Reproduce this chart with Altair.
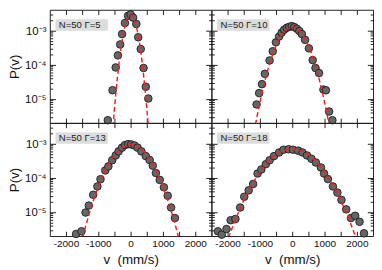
import altair as alt
import pandas as pd

# ---------------- data ----------------
labels = ["N=50 \u0393=5", "N=50 \u0393=10", "N=50 \u0393=13", "N=50 \u0393=18"]

tl_v = [-706, -559, -462, -394, -323, -265, -176, -79, 0, 76, 176, 235, 312, 400, 470, 547]
tl_p = [2.4e-6, 1.8e-5, 8.3e-5, 1.87e-4, 3.9e-4, 7.8e-4, 1.64e-3, 2.68e-3, 2.9e-3,
        2.36e-3, 1.54e-3, 6.3e-4, 2.86e-4, 8.0e-5, 2.27e-5, 1.03e-5]

tr_v = [-1103, -1024, -936, -848, -701, -603, -505, -407, -328, -250, -171, -93, -15,
        64, 142, 220, 299, 397, 515, 632, 720, 829, 965, 1044, 1141, 1241]
tr_p = [6.9e-6, 1.48e-5, 2.7e-5, 5.4e-5, 1.33e-4, 2.46e-4, 4.5e-4, 6.6e-4, 8.6e-4,
        1.05e-3, 1.19e-3, 1.27e-3, 1.33e-3, 1.25e-3, 1.12e-3, 9.6e-4, 7.8e-4, 5.3e-4,
        3.0e-4, 1.36e-4, 8.0e-5, 5.7e-5, 1.88e-5, 1.79e-5, 4.3e-6, 2.4e-6]

bl_v = [-1688, -1520, -1393, -1294, -1158, -1029, -932, -785, -688, -570, -462, -373,
        -265, -176, -79, 18, 118, 215, 332, 470, 588, 685, 782, 900, 1029, 1147, 1252, 1370]
bl_p = [2.3e-6, 2.75e-6, 9.7e-6, 1.55e-5, 3.2e-5, 5.6e-5, 9.1e-5, 1.64e-4, 2.16e-4,
        3.25e-4, 4.5e-4, 5.9e-4, 7.6e-4, 9.0e-4, 9.6e-4, 9.4e-4, 8.8e-4, 7.6e-4, 5.9e-4,
        4.3e-4, 3.3e-4, 2.26e-4, 1.38e-4, 8.7e-5, 5.3e-5, 3.0e-5, 1.36e-5, 6.7e-6]

br_v = [-2299, -2181, -2034, -1905, -1758, -1611, -1485, -1347, -1211, -1073, -956, -817,
        -700, -564, -406, -270, -112, 24, 182, 318, 456, 594, 729, 888, 985, 1103, 1258,
        1397, 1523, 1670, 1817, 1946, 2082, 2220]
br_p = [2.75e-6, 2.2e-6, 3.2e-6, 5.8e-6, 6.3e-6, 1.36e-5, 2.8e-5, 4.3e-5, 6.6e-5, 1.33e-4,
        1.75e-4, 2.5e-4, 3.25e-4, 4.3e-4, 5.5e-4, 6.6e-4, 6.8e-4, 6.6e-4, 6.2e-4, 5.5e-4,
        4.5e-4, 3.6e-4, 2.8e-4, 2.0e-4, 1.33e-4, 9.2e-5, 5.6e-5, 3.7e-5, 2.26e-5, 1.2e-5,
        6.7e-6, 7.8e-6, 5.2e-6, 2.4e-6]

# red dashed fit curves
tl_fv = [-600, -550, -500, -450, -400, -350, -300, -250, -200, -150, -100, -50, 0,
         50, 100, 150, 200, 250, 300, 350, 400, 450, 500, 550, 600]
tl_fp = [3.3e-7, 1.41e-6, 5.27e-6, 1.739e-5, 5.06e-5, 1.299e-4, 2.94e-4, 5.88e-4, 1.035e-3,
         1.607e-3, 2.201e-3, 2.658e-3, 2.83e-3, 2.658e-3, 2.201e-3, 1.607e-3, 1.035e-3,
         5.88e-4, 2.94e-4, 1.299e-4, 5.06e-5, 1.739e-5, 5.27e-6, 1.41e-6, 3.3e-7]

tr_fv = [-1300, -1200, -1100, -1000, -900, -800, -700, -600, -500, -400, -300, -200, -100, 0,
         100, 200, 300, 400, 500, 600, 700, 800, 900, 1000, 1100, 1200, 1300]
tr_fp = [2.4e-7, 8.6e-7, 2.75e-6, 7.97e-6, 2.09e-5, 4.94e-5, 1.058e-4, 2.05e-4, 3.57e-4,
         5.64e-4, 8.05e-4, 1.037e-3, 1.207e-3, 1.27e-3, 1.207e-3, 1.037e-3, 8.05e-4, 5.64e-4,
         3.57e-4, 2.05e-4, 1.058e-4, 4.94e-5, 2.09e-5, 7.97e-6, 2.75e-6, 8.6e-7, 2.4e-7]

bl_fv = [-1600, -1500, -1400, -1300, -1200, -1100, -1000, -900, -800, -700, -600, -500, -400,
         -300, -200, -100, 0, 100, 200, 300, 400, 500, 600, 700, 800, 900, 1000, 1100, 1200,
         1300, 1400, 1500, 1600]
bl_fp = [6.6e-7, 1.58e-6, 3.6e-6, 7.73e-6, 1.57e-5, 3.01e-5, 5.46e-5, 9.37e-5, 1.516e-4,
         2.32e-4, 3.35e-4, 4.58e-4, 5.91e-4, 7.21e-4, 8.3e-4, 9.04e-4, 9.3e-4, 9.04e-4, 8.3e-4,
         7.21e-4, 5.91e-4, 4.58e-4, 3.35e-4, 2.32e-4, 1.516e-4, 9.37e-5, 5.46e-5, 3.01e-5,
         1.57e-5, 7.73e-6, 3.6e-6, 1.58e-6, 6.6e-7]

br_fv = [-2200, -2000, -1800, -1600, -1400, -1200, -1000, -800, -600, -400, -200, 0,
         200, 400, 600, 800, 1000, 1200, 1400, 1600, 1800, 2000, 2200]
br_fp = [4.1e-7, 1.5e-6, 4.8e-6, 1.361e-5, 3.42e-5, 7.58e-5, 1.489e-4, 2.59e-4, 3.97e-4,
         5.4e-4, 6.49e-4, 6.9e-4, 6.49e-4, 5.4e-4, 3.97e-4, 2.59e-4, 1.489e-4, 7.58e-5,
         3.42e-5, 1.361e-5, 4.8e-6, 1.5e-6, 4.1e-7]

x_ticks = [-2000, -1500, -1000, -500, 0, 500, 1000, 1500, 2000]
x_labels = [-2000, -1000, 0, 1000, 2000]
y_major = [1e-5, 1e-4, 1e-3]
y_minor = [3e-6, 4e-6, 5e-6, 6e-6, 7e-6, 8e-6, 9e-6,
           2e-5, 3e-5, 4e-5, 5e-5, 6e-5, 7e-5, 8e-5, 9e-5,
           2e-4, 3e-4, 4e-4, 5e-4, 6e-4, 7e-4, 8e-4, 9e-4,
           2e-3, 3e-3]

# ---------------- styling ----------------
W, H = 170, 119
XD = [-2500, 2500]
YD = [2e-6, 4e-3]
FONT = "Liberation Sans"
INK = "#1a1a1a"


def xenc(axis):
    return alt.X("v:Q", scale=alt.Scale(domain=XD, nice=False, zero=False), axis=axis)


def yenc(axis):
    return alt.Y("p:Q", scale=alt.Scale(type="log", domain=YD, nice=False), axis=axis)


def tick_axis(orient, offset, values, size):
    return alt.Axis(orient=orient, offset=offset, values=values, tickSize=size,
                    labels=False, domain=False, grid=False, title=None,
                    tickColor=INK, tickWidth=1)


def panel(v, p, fv, fp, label, bottom_row, left_col):
    pts = pd.DataFrame({"v": v, "p": p})
    fit = pd.DataFrame({"v": fv, "p": fp})

    if bottom_row:
        x_main = alt.Axis(orient="bottom", values=x_labels, labelExpr="'' + datum.value",
                          ticks=False, tickSize=0, domain=False, grid=False,
                          labelFontSize=10.5, labelPadding=3, labelFlush=False,
                          title="v\u00a0 (mm/s)", titleFontSize=14,
                          titleFontWeight="normal", titlePadding=4)
    else:
        x_main = None
    if left_col:
        y_main = alt.Axis(orient="left", values=y_major,
                          labelExpr="datum.value >= 5e-4 ? '10\u207b\u00b3' : "
                                    "(datum.value >= 5e-5 ? '10\u207b\u2074' : '10\u207b\u2075')",
                          ticks=False, tickSize=0, domain=False, grid=False,
                          labelFontSize=12, labelPadding=4,
                          title="P(v)", titleFontSize=14, titleFontWeight="normal",
                          titlePadding=3)
    else:
        y_main = None

    pts_layer = alt.Chart(pts).mark_circle(
        size=64, fill="#666666", stroke=INK, strokeWidth=0.9, opacity=1
    ).encode(x=xenc(x_main), y=yenc(y_main))

    fit_layer = alt.Chart(fit).mark_line(
        color="#ff1a1a", strokeDash=[5, 3], strokeWidth=1.5, clip=True, interpolate="monotone"
    ).encode(x=xenc(tick_axis("top", -H, x_ticks, 5)),
             y=yenc(tick_axis("right", -W, y_major, 6)))

    g1 = alt.Chart(pts).mark_point(opacity=0).encode(
        x=xenc(tick_axis("bottom", -H, x_ticks, 5)),
        y=yenc(tick_axis("left", -W, y_major, 6)))
    g2 = alt.Chart(pts).mark_point(opacity=0).encode(
        x=xenc(None), y=yenc(tick_axis("right", -W, y_minor, 3)))
    g3 = alt.Chart(pts).mark_point(opacity=0).encode(
        x=xenc(None), y=yenc(tick_axis("left", -W, y_minor, 3)))

    lab = alt.Data(values=[{"t": label}])
    lab_rect = alt.Chart(lab).mark_rect(color="#dcdcdc").encode(
        x=alt.value(6), x2=alt.value(61), y=alt.value(10), y2=alt.value(22))
    lab_text = alt.Chart(lab).mark_text(
        align="left", baseline="middle", fontSize=10, font=FONT, color="#222222"
    ).encode(x=alt.value(9.5), y=alt.value(16.5), text="t:N")

    return alt.layer(g1, g2, g3, pts_layer, fit_layer, lab_rect, lab_text).resolve_axis(
        x="independent", y="independent").properties(width=W, height=H)


tl = panel(tl_v, tl_p, tl_fv, tl_fp, labels[0], False, True)
tr = panel(tr_v, tr_p, tr_fv, tr_fp, labels[1], False, False)
bl = panel(bl_v, bl_p, bl_fv, bl_fp, labels[2], True, True)
br = panel(br_v, br_p, br_fv, br_fp, labels[3], True, False)

chart = alt.concat(tl, tr, bl, br, columns=2, spacing=0, bounds="flush").properties(
    padding={"left": -1, "top": -7, "right": 0, "bottom": 0}
).configure_view(
    stroke=INK, strokeWidth=1
).configure_axis(
    labelFont=FONT, titleFont=FONT, labelColor="#111111", titleColor="#111111"
)

chart.save("out.html", embed_options={"renderer": "svg", "actions": False})
